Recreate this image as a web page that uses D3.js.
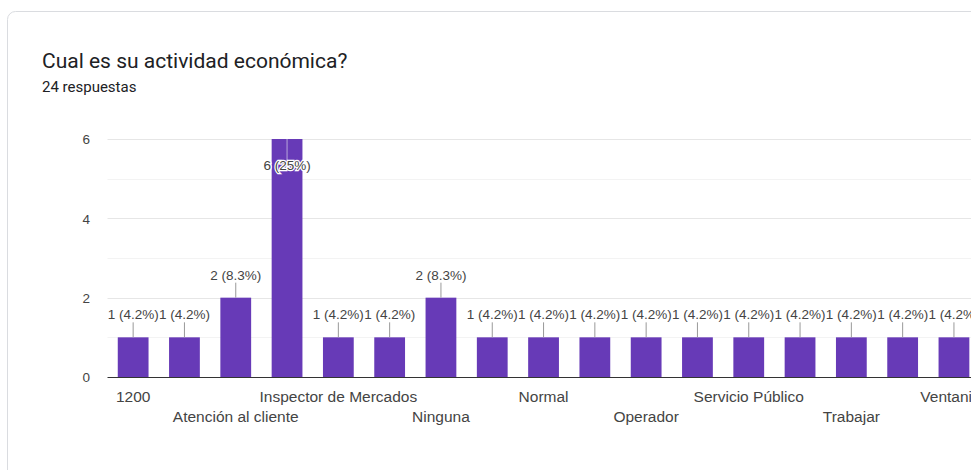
<!DOCTYPE html>
<html>
<head>
<meta charset="utf-8">
<script src="https://cdn.jsdelivr.net/npm/d3@7"></script>
<style>
  html, body { margin: 0; padding: 0; background: #fff; overflow: hidden; }
  svg { display: block; }
</style>
</head>
<body>
<svg id="chart" width="971" height="470"></svg>
<script>
// ---- data ----
const title = "Cual es su actividad económica?";
const subtitle = "24 respuestas";
const categories = [
  "1200", "Ama de casa", "Atención al cliente", "Estudiante", "Inspector de Mercados",
  "Jubilado", "Ninguna", "Ninguno", "Normal", "Obrero", "Operador", "Secretaria",
  "Servicio Público", "Servidor público", "Trabajar", "Transporte", "Ventanilla"
];
const counts = [1, 1, 2, 6, 1, 1, 2, 1, 1, 1, 1, 1, 1, 1, 1, 1, 1];
const percents = ["4.2%", "4.2%", "8.3%", "25%", "4.2%", "4.2%", "8.3%", "4.2%", "4.2%",
  "4.2%", "4.2%", "4.2%", "4.2%", "4.2%", "4.2%", "4.2%", "4.2%"];
const yTicks = [0, 2, 4, 6];
const yMinor = [1, 3, 5];

const svg = d3.select("#chart");
const W = 971, H = 470;
const barColor = "#673ab7";
const chartFont = "'Liberation Sans', Arial, sans-serif";

// card
svg.append("rect")
  .attr("x", 7.5).attr("y", 11.5)
  .attr("width", 1000).attr("height", 500)
  .attr("rx", 8)
  .attr("fill", "#fff")
  .attr("stroke", "#dadce0");

// titles
svg.append("text")
  .attr("x", 42).attr("y", 68)
  .attr("font-family", "Roboto, 'Noto Sans', sans-serif")
  .attr("font-size", 21)
  .attr("fill", "#202124")
  .text(title);
svg.append("text")
  .attr("x", 42).attr("y", 92)
  .attr("font-family", "Roboto, 'Noto Sans', sans-serif")
  .attr("font-size", 15)
  .attr("fill", "#202124")
  .text(subtitle);

// scales
const plotLeft = 107.5;
const x = d3.scaleBand()
  .domain(categories)
  .range([plotLeft, plotLeft + 17 * 51.3])
  .paddingInner(0.4)
  .paddingOuter(0.2);
const y = d3.scaleLinear().domain([0, 6]).range([377, 139]);

// gridlines
const g = svg.append("g");
g.selectAll("line.minor").data(yMinor).join("line")
  .attr("class", "minor")
  .attr("x1", plotLeft).attr("x2", W)
  .attr("y1", d => Math.round(y(d)) + 0.5).attr("y2", d => Math.round(y(d)) + 0.5)
  .attr("stroke", "#f3f3f3");
g.selectAll("line.major").data(yTicks.filter(d => d !== 0)).join("line")
  .attr("class", "major")
  .attr("x1", plotLeft).attr("x2", W)
  .attr("y1", d => Math.round(y(d)) + 0.5).attr("y2", d => Math.round(y(d)) + 0.5)
  .attr("stroke", "#e6e6e6");

// y axis labels
const yAxis = d3.axisLeft(y).tickValues(yTicks).tickFormat(d3.format("d")).tickSize(0).tickPadding(0);
const ya = svg.append("g").attr("transform", `translate(90,0)`).call(yAxis);
ya.select(".domain").remove();
ya.selectAll("text")
  .attr("font-family", chartFont)
  .attr("font-size", 13.5)
  .attr("fill", "#444")
  .attr("dy", "0.35em");

// bars
svg.selectAll("rect.bar").data(categories).join("rect")
  .attr("class", "bar")
  .attr("x", d => x(d))
  .attr("width", x.bandwidth())
  .attr("y", (d, i) => y(counts[i]))
  .attr("height", (d, i) => y(0) - y(counts[i]))
  .attr("fill", barColor);

// baseline
svg.append("line")
  .attr("x1", plotLeft).attr("x2", W)
  .attr("y1", 377.5).attr("y2", 377.5)
  .attr("stroke", "#333").attr("stroke-width", 1);

// x axis labels (every other, alternating rows)
const xAxis = d3.axisBottom(x).tickSize(0).tickPadding(0)
  .tickFormat((d, i) => i % 2 === 0 ? d : "");
const xa = svg.append("g").attr("transform", "translate(0,377)").call(xAxis);
xa.select(".domain").remove();
xa.selectAll("text")
  .attr("font-family", chartFont)
  .attr("font-size", 15.5)
  .attr("fill", "#444")
  .attr("y", (d, i) => (i % 4 === 0 ? 24.5 : 44.5))
  .attr("dy", 0);

// annotations
const ann = svg.append("g");
categories.forEach((c, i) => {
  const cx = x(c) + x.bandwidth() / 2;
  const top = y(counts[i]);
  const label = `${counts[i]} (${percents[i]})`;
  if (counts[i] >= 6) {
    // inside the bar
    ann.append("line")
      .attr("x1", cx).attr("x2", cx)
      .attr("y1", top).attr("y2", top + 21)
      .attr("stroke", "#b9a6dc").attr("stroke-width", 1);
    ann.append("text")
      .attr("x", cx).attr("y", top + 31)
      .attr("text-anchor", "middle")
      .attr("font-family", chartFont)
      .attr("font-size", 13.5)
      .attr("fill", "#444")
      .attr("stroke", "#fff").attr("stroke-width", 2.5)
      .attr("paint-order", "stroke")
      .text(label);
  } else {
    ann.append("line")
      .attr("x1", cx).attr("x2", cx)
      .attr("y1", top).attr("y2", top - 15)
      .attr("stroke", "#999").attr("stroke-width", 1);
    ann.append("text")
      .attr("x", cx).attr("y", top - 18)
      .attr("text-anchor", "middle")
      .attr("font-family", chartFont)
      .attr("font-size", 13.5)
      .attr("fill", "#444")
      .attr("stroke", "#fff").attr("stroke-width", 3)
      .attr("paint-order", "stroke")
      .text(label);
  }
});
</script>
</body>
</html>
